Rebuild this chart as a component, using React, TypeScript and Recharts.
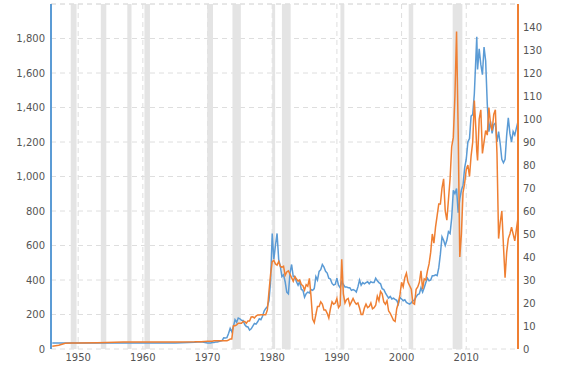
import React from "react";
import {
  ComposedChart,
  Line,
  XAxis,
  YAxis,
  CartesianGrid,
  ReferenceArea,
  ReferenceLine,
} from "recharts";

// decimal years (quarterly from 1970)
const years = [
  1946, 1947, 1948, 1949, 1950, 1953, 1957, 1960, 1965, 1968, 1969,
  1970, 1970.25, 1970.5, 1970.75,
  1971, 1971.25, 1971.5, 1971.75,
  1972, 1972.25, 1972.5, 1972.75,
  1973, 1973.25, 1973.5, 1973.75,
  1974, 1974.25, 1974.5, 1974.75,
  1975, 1975.25, 1975.5, 1975.75,
  1976, 1976.25, 1976.5, 1976.75,
  1977, 1977.25, 1977.5, 1977.75,
  1978, 1978.25, 1978.5, 1978.75,
  1979, 1979.25, 1979.5, 1979.75,
  1980, 1980.25, 1980.5, 1980.75,
  1981, 1981.25, 1981.5, 1981.75,
  1982, 1982.25, 1982.5, 1982.75,
  1983, 1983.25, 1983.5, 1983.75,
  1984, 1984.25, 1984.5, 1984.75,
  1985, 1985.25, 1985.5, 1985.75,
  1986, 1986.25, 1986.5, 1986.75,
  1987, 1987.25, 1987.5, 1987.75,
  1988, 1988.25, 1988.5, 1988.75,
  1989, 1989.25, 1989.5, 1989.75,
  1990, 1990.25, 1990.5, 1990.75,
  1991, 1991.25, 1991.5, 1991.75,
  1992, 1992.25, 1992.5, 1992.75,
  1993, 1993.25, 1993.5, 1993.75,
  1994, 1994.25, 1994.5, 1994.75,
  1995, 1995.25, 1995.5, 1995.75,
  1996, 1996.25, 1996.5, 1996.75,
  1997, 1997.25, 1997.5, 1997.75,
  1998, 1998.25, 1998.5, 1998.75,
  1999, 1999.25, 1999.5, 1999.75,
  2000, 2000.25, 2000.5, 2000.75,
  2001, 2001.25, 2001.5, 2001.75,
  2002, 2002.25, 2002.5, 2002.75,
  2003, 2003.25, 2003.5, 2003.75,
  2004, 2004.25, 2004.5, 2004.75,
  2005, 2005.25, 2005.5, 2005.75,
  2006, 2006.25, 2006.5, 2006.75,
  2007, 2007.25, 2007.5, 2007.75,
  2008, 2008.25, 2008.5, 2008.75,
  2009, 2009.25, 2009.5, 2009.75,
  2010, 2010.25, 2010.5, 2010.75,
  2011, 2011.25, 2011.5, 2011.625, 2011.75,
  2012, 2012.25, 2012.5, 2012.75,
  2013, 2013.25, 2013.5, 2013.75,
  2014, 2014.25, 2014.5, 2014.75,
  2015, 2015.25, 2015.5, 2015.75,
  2016, 2016.25, 2016.5, 2016.75,
  2017, 2017.25, 2017.5, 2017.75,
  2018,
];

// gold price, USD per ounce
const gold = [
  35, 35, 35, 35, 35, 35, 35, 35, 35, 39, 42,
  35, 35.5, 35.5, 37,
  38, 40, 41, 43,
  46, 49, 65, 64,
  66, 90, 120, 100,
  130, 170, 155, 180,
  175, 166, 165, 142,
  130, 128, 110, 117,
  133, 148, 144, 158,
  175, 170, 190, 220,
  235, 245, 280, 390,
  670, 520, 600, 670,
  520, 480, 420, 430,
  390, 330, 320, 440,
  490, 420, 420, 390,
  370, 390, 345, 340,
  300, 320, 330, 325,
  345, 340, 350, 420,
  400, 450, 460, 490,
  475, 450, 440, 410,
  405, 380, 370, 375,
  410, 370, 355, 390,
  375, 360, 360, 355,
  355, 340, 345, 340,
  330, 360, 400, 370,
  385, 378, 385, 390,
  378, 390, 385, 385,
  410, 395, 385, 378,
  350, 345, 325, 310,
  295, 305, 290, 295,
  288, 282, 260, 300,
  290, 280, 285, 270,
  265, 260, 268, 280,
  283, 302, 315, 320,
  355, 330, 355, 385,
  410, 395, 400, 425,
  425, 430, 425, 470,
  550, 650, 630, 600,
  630, 680, 670, 760,
  920, 900, 930, 790,
  870, 920, 950, 1050,
  1100, 1200, 1220, 1350,
  1360, 1480, 1700, 1810, 1620,
  1740, 1650, 1590, 1750,
  1670, 1420, 1260, 1320,
  1250, 1300, 1310, 1200,
  1260, 1190, 1100, 1080,
  1100, 1240, 1340, 1250,
  1200, 1260, 1240, 1280,
  1320,
];

// crude oil price, USD per barrel
const oil = [
  1.2, 1.6, 2.5, 2.6, 2.6, 2.7, 3.0, 3.0, 3.0, 3.1, 3.2,
  3.35, 3.35, 3.35, 3.35,
  3.56, 3.56, 3.56, 3.56,
  3.56, 3.56, 3.56, 3.56,
  3.56, 3.9, 4.3, 4.3,
  10.1, 10.1, 10.5, 11.2,
  11.2, 11.2, 12.0, 12.0,
  11.2, 12.2, 12.2, 13.9,
  14.0, 13.5, 14.3, 14.8,
  14.8, 14.9, 14.9, 14.9,
  14.9, 17, 25, 32.5,
  38, 38.5, 37, 36.5,
  38, 36, 35.5, 36,
  32, 33.5, 34, 32.5,
  31, 29.5, 31.5, 30.5,
  29.5, 30, 28, 27.5,
  25.6, 28, 27.3, 30.7,
  22.9, 13, 11.5, 15,
  18.5, 18.5, 20.5, 19.5,
  17, 17, 15.5, 13.5,
  17.5, 20.5, 19.5, 20,
  22, 18, 19, 39,
  24, 20, 21.5, 22,
  19, 20.5, 22, 20.5,
  19.5, 20, 17.8, 15,
  15, 17.8, 19.5, 18,
  18.5, 20, 17.5, 18,
  19, 23, 21, 25,
  24, 20.5, 19.5, 21,
  16.5, 15.5, 14, 12.5,
  12, 17.5, 20, 23.5,
  29, 27, 31, 33,
  29, 27.5, 26, 20,
  19.5, 26, 27, 29,
  34, 26, 30.5, 30,
  34, 37, 42, 50,
  46, 53, 58, 63,
  63, 70, 74, 60,
  56, 65, 74, 88,
  92, 110, 138, 95,
  40, 50, 68, 72,
  78, 80, 75, 84,
  90, 108, 95, 86, 82,
  100, 104, 85, 90,
  95, 93, 105, 98,
  95, 102, 104, 85,
  48, 55, 60, 45,
  31, 42, 48, 50,
  53, 50, 47, 52,
  57,
];

const recessionStart = [1948.85, 1953.5, 1957.6, 1960.25, 1969.95, 1973.85, 1980.0, 1981.5, 1990.55, 2001.1, 2007.9];
const recessionEnd = [1949.75, 1954.35, 1958.25, 1961.1, 1970.85, 1975.15, 1980.45, 1982.85, 1991.15, 2001.8, 2009.4];

const yearTicks = [1950, 1960, 1970, 1980, 1990, 2000, 2010];
const goldTicks = [0, 200, 400, 600, 800, 1000, 1200, 1400, 1600, 1800];
const oilTicks = [0, 10, 20, 30, 40, 50, 60, 70, 80, 90, 100, 110, 120, 130, 140];

const data = years.map((year, i) => ({ year, gold: gold[i], oil: oil[i] }));

const BLUE = "#5b9bd5";
const ORANGE = "#ef7f32";
const tickStyle = { fill: "#555", fontSize: 10, fontFamily: "DejaVu Sans" };

export default function App() {
  return (
    <div style={{ position: "absolute", left: 0, top: 0, width: 584, height: 368, background: "#fff" }}>
      <ComposedChart width={584} height={368} data={data} margin={{ top: 4, right: 0, bottom: 0, left: 0 }}>
        <XAxis
          dataKey="year"
          type="number"
          domain={[1945.8, 2018]}
          ticks={yearTicks}
          allowDataOverflow
          height={19}
          axisLine={false}
          tickLine={false}
          tickSize={0}
          tickMargin={5}
          tick={tickStyle}
        />
        <YAxis
          yAxisId="left"
          orientation="left"
          width={51}
          domain={[0, 2000]}
          ticks={goldTicks}
          tickFormatter={(v) => v.toLocaleString("en-US")}
          axisLine={{ stroke: BLUE, strokeWidth: 2 }}
          tickLine={false}
          tickSize={0}
          tickMargin={6}
          tick={tickStyle}
        />
        <YAxis
          yAxisId="right"
          orientation="right"
          width={66}
          domain={[0, 150]}
          ticks={oilTicks}
          axisLine={{ stroke: ORANGE, strokeWidth: 2 }}
          tickLine={false}
          tickSize={0}
          tickMargin={5}
          tick={tickStyle}
        />
        <CartesianGrid yAxisId="left" strokeDasharray="5 4" stroke="#dedede" />
        <ReferenceLine yAxisId="left" y={2000} stroke="#dedede" strokeDasharray="5 4" />
        {recessionStart.map((s, i) => (
          <ReferenceArea
            key={s}
            yAxisId="left"
            x1={s}
            x2={recessionEnd[i]}
            fill="#e4e4e4"
            fillOpacity={1}
            stroke="none"
          />
        ))}
        <Line
          yAxisId="left"
          type="linear"
          dataKey="gold"
          stroke={BLUE}
          strokeWidth={1.5}
          dot={false}
          isAnimationActive={false}
        />
        <Line
          yAxisId="right"
          type="linear"
          dataKey="oil"
          stroke={ORANGE}
          strokeWidth={1.5}
          dot={false}
          isAnimationActive={false}
        />
      </ComposedChart>
    </div>
  );
}
